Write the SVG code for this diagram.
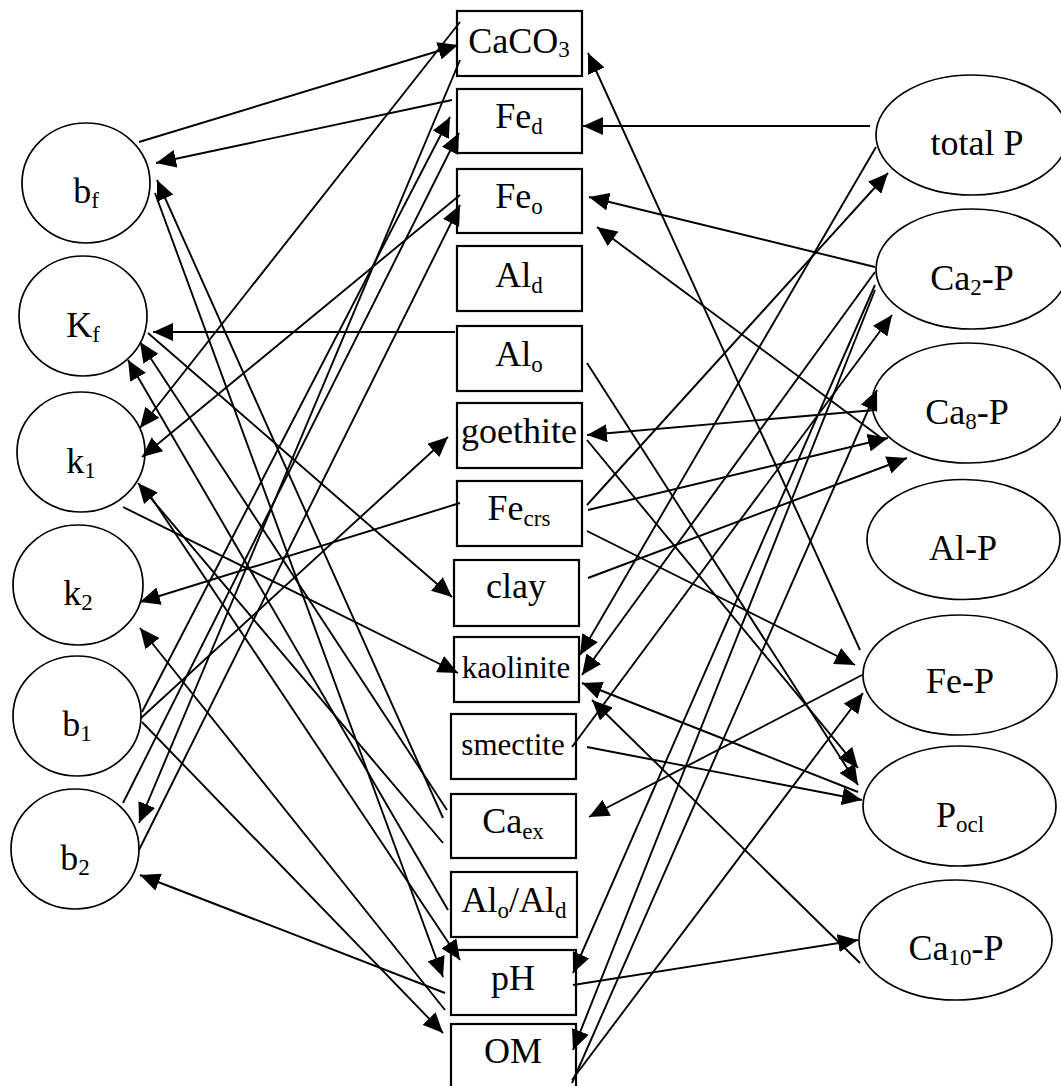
<svg xmlns="http://www.w3.org/2000/svg" width="1061" height="1086" viewBox="0 0 1061 1086">
<defs>
  <marker id="ah" markerUnits="userSpaceOnUse" markerWidth="20" markerHeight="18" refX="20" refY="9" orient="auto">
    <path d="M0,0 L20,9 L0,18 z" fill="#000"/>
  </marker>
  <style>
    .node ellipse { fill: #fff; stroke: #000; stroke-width: 1.7; }
    .node rect { fill: #fff; stroke: #000; stroke-width: 2.2; }
    text { font-family: "Liberation Serif", "Times New Roman", serif; font-size: 36px; text-anchor: middle; fill: #000; }
    .sub { font-size: 23px; }
    .small { font-size: 31px; }
    .conn line { stroke: #000; stroke-width: 1.9; marker-end: url(#ah); }
  </style>
</defs>
<rect x="0" y="0" width="1061" height="1086" fill="#fff"/>

<!-- left column: model parameters -->
<g id="n-bf" class="node"><ellipse cx="86" cy="183" rx="64" ry="60"/><text x="86" y="203">b<tspan class="sub" dy="5">f</tspan></text></g>
<g id="n-Kf" class="node"><ellipse cx="83" cy="316" rx="64" ry="60"/><text x="83" y="337">K<tspan class="sub" dy="5">f</tspan></text></g>
<g id="n-k1" class="node"><ellipse cx="81" cy="452" rx="64" ry="60"/><text x="81" y="473">k<tspan class="sub" dy="5">1</tspan></text></g>
<g id="n-k2" class="node"><ellipse cx="78" cy="585" rx="65" ry="60"/><text x="78" y="605">k<tspan class="sub" dy="5">2</tspan></text></g>
<g id="n-b1" class="node"><ellipse cx="77" cy="716" rx="64" ry="60"/><text x="77" y="736">b<tspan class="sub" dy="5">1</tspan></text></g>
<g id="n-b2" class="node"><ellipse cx="75" cy="849" rx="64" ry="60"/><text x="75" y="870">b<tspan class="sub" dy="5">2</tspan></text></g>

<!-- centre column: soil properties -->
<g id="n-caco3" class="node"><rect x="457" y="11" width="125" height="65"/><text x="519" y="53">CaCO<tspan class="sub" dy="4">3</tspan></text></g>
<g id="n-fed" class="node"><rect x="457" y="89" width="125" height="64"/><text x="519" y="128">Fe<tspan class="sub" dy="6">d</tspan></text></g>
<g id="n-feo" class="node"><rect x="457" y="169" width="125" height="64"/><text x="519" y="208">Fe<tspan class="sub" dy="6">o</tspan></text></g>
<g id="n-ald" class="node"><rect x="457" y="246" width="125" height="65"/><text x="519" y="287">Al<tspan class="sub" dy="6">d</tspan></text></g>
<g id="n-alo" class="node"><rect x="457" y="326" width="125" height="65"/><text x="519" y="366">Al<tspan class="sub" dy="6">o</tspan></text></g>
<g id="n-goethite" class="node"><rect x="457" y="403" width="125" height="65"/><text x="519" y="443">goethite</text></g>
<g id="n-fecrs" class="node"><rect x="457" y="481" width="125" height="65"/><text x="519" y="520">Fe<tspan class="sub" dy="6">crs</tspan></text></g>
<g id="n-clay" class="node"><rect x="454" y="560" width="125" height="66"/><text x="516" y="598">clay</text></g>
<g id="n-kaolinite" class="node"><rect x="454" y="637" width="125" height="65"/><text class="small" x="516" y="678">kaolinite</text></g>
<g id="n-smectite" class="node"><rect x="451" y="714" width="125" height="65"/><text class="small" x="513" y="755">smectite</text></g>
<g id="n-caex" class="node"><rect x="451" y="794" width="125" height="64"/><text x="513" y="833">Ca<tspan class="sub" dy="6">ex</tspan></text></g>
<g id="n-aloald" class="node"><rect x="451" y="872" width="126" height="65"/><text x="514" y="912">Al<tspan class="sub" dy="6">o</tspan><tspan dy="-6">/Al</tspan><tspan class="sub" dy="6">d</tspan></text></g>
<g id="n-ph" class="node"><rect x="451" y="950" width="125" height="65"/><text x="513" y="990">pH</text></g>
<g id="n-om" class="node"><rect x="451" y="1024" width="125" height="65"/><text x="513" y="1063">OM</text></g>

<!-- right column: phosphorus fractions -->
<g id="n-totalp" class="node"><ellipse cx="972" cy="135" rx="96" ry="60"/><text x="977" y="155">total P</text></g>
<g id="n-ca2p" class="node"><ellipse cx="972" cy="269" rx="96" ry="60"/><text x="972" y="290">Ca<tspan class="sub" dy="5">2</tspan><tspan dy="-5">-P</tspan></text></g>
<g id="n-ca8p" class="node"><ellipse cx="968" cy="403" rx="96" ry="60"/><text x="967" y="424">Ca<tspan class="sub" dy="5">8</tspan><tspan dy="-5">-P</tspan></text></g>
<g id="n-alp" class="node"><ellipse cx="963.5" cy="539.5" rx="96.5" ry="60"/><text x="963" y="560">Al-P</text></g>
<g id="n-fep" class="node"><ellipse cx="960" cy="675" rx="97" ry="60"/><text x="960" y="693">Fe-P</text></g>
<g id="n-pocl" class="node"><ellipse cx="959.5" cy="806" rx="96.5" ry="60"/><text x="960" y="827">P<tspan class="sub" dy="5">ocl</tspan></text></g>
<g id="n-ca10p" class="node"><ellipse cx="955.5" cy="940" rx="96.5" ry="60"/><text x="956" y="960">Ca<tspan class="sub" dy="5">10</tspan><tspan dy="-5">-P</tspan></text></g>

<!-- connectors -->
<g id="connectors" class="conn">
  <line x1="139" y1="142" x2="458" y2="45"/>
  <line x1="452" y1="100" x2="156" y2="163"/>
  <line x1="460" y1="22" x2="140" y2="428"/>
  <line x1="460" y1="60" x2="139" y2="823"/>
  <line x1="460" y1="195" x2="142" y2="457"/>
  <line x1="142" y1="712" x2="450" y2="117"/>
  <line x1="123" y1="803" x2="459" y2="133"/>
  <line x1="139" y1="850" x2="460" y2="205"/>
  <line x1="455" y1="332" x2="153" y2="332"/>
  <line x1="148" y1="333" x2="452" y2="597"/>
  <line x1="141" y1="718" x2="448" y2="437"/>
  <line x1="460" y1="503" x2="140" y2="602"/>
  <line x1="123" y1="507" x2="458" y2="673"/>
  <line x1="447" y1="810" x2="140" y2="342"/>
  <line x1="443" y1="818" x2="157" y2="180"/>
  <line x1="443" y1="843" x2="138" y2="483"/>
  <line x1="448" y1="910" x2="128" y2="360"/>
  <line x1="145" y1="488" x2="460" y2="960"/>
  <line x1="155" y1="193" x2="443" y2="977"/>
  <line x1="445" y1="993" x2="140" y2="875"/>
  <line x1="445" y1="1010" x2="140" y2="628"/>
  <line x1="142" y1="722" x2="443" y2="1033"/>

  <line x1="860" y1="650" x2="588" y2="53"/>
  <line x1="870" y1="126" x2="583" y2="126"/>
  <line x1="875" y1="267" x2="589" y2="197"/>
  <line x1="880" y1="437" x2="597" y2="227"/>
  <line x1="587" y1="363" x2="858" y2="785"/>
  <line x1="875" y1="410" x2="587" y2="435"/>
  <line x1="587" y1="440" x2="858" y2="768"/>
  <line x1="587" y1="505" x2="888" y2="173"/>
  <line x1="588" y1="510" x2="888" y2="438"/>
  <line x1="587" y1="531" x2="855" y2="665"/>
  <line x1="588" y1="578" x2="907" y2="458"/>
  <line x1="876" y1="147" x2="580" y2="655"/>
  <line x1="875" y1="272" x2="582" y2="675"/>
  <line x1="858" y1="792" x2="582" y2="683"/>
  <line x1="860" y1="963" x2="592" y2="700"/>
  <line x1="572" y1="747" x2="892" y2="315"/>
  <line x1="587" y1="747" x2="862" y2="800"/>
  <line x1="862" y1="675" x2="589" y2="817"/>
  <line x1="875" y1="285" x2="573" y2="973"/>
  <line x1="875" y1="290" x2="573" y2="1050"/>
  <line x1="572" y1="1083" x2="877" y2="390"/>
  <line x1="572" y1="1080" x2="863" y2="693"/>
  <line x1="573" y1="985" x2="858" y2="940"/>
</g>
</svg>
